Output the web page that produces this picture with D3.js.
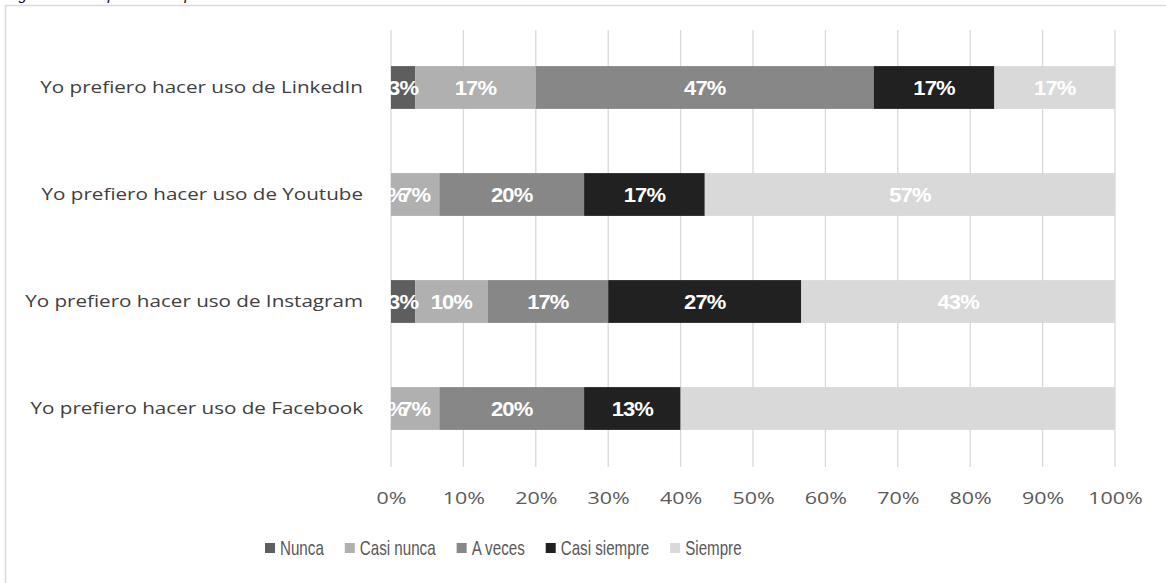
<!DOCTYPE html>
<html>
<head>
<meta charset="utf-8">
<script src="https://cdn.jsdelivr.net/npm/d3@7"></script>
<style>
  body { margin: 0; background: #fff; }
  svg { display: block; }
</style>
</head>
<body>
<svg id="chart"></svg>
<script>
// categories, top to bottom
const categories = [
  "Yo prefiero hacer uso de LinkedIn",
  "Yo prefiero hacer uso de Youtube",
  "Yo prefiero hacer uso de Instagram",
  "Yo prefiero hacer uso de Facebook"
];

const seriesNames = ["Nunca", "Casi nunca", "A veces", "Casi siempre", "Siempre"];
const seriesColors = ["#5e5e5e", "#b0b0b0", "#878787", "#212121", "#d9d9d9"];

// percentages per series, same order as categories
const nunca = [3.33, 0, 3.33, 0];
const casiNunca = [16.67, 6.67, 10, 6.67];
const aVeces = [46.67, 20, 16.67, 20];
const casiSiempre = [16.67, 16.67, 26.67, 13.33];
const siempre = [16.67, 56.67, 43.33, 60];

// label not shown in the original for this cell: [category index, series index]
const hiddenLabels = [[3, 4]];

const tickValues = [0, 10, 20, 30, 40, 50, 60, 70, 80, 90, 100];
const caption = "Figura 4 Descripción de la preferencia de uso de redes sociales";

const width = 1166, height = 583;
const margin = { left: 391, right: 51, top: 34, bottom: 121 };
// the original picture is stretched sideways
const stretch = 1.25;

const svg = d3.select("#chart")
  .attr("width", width)
  .attr("height", height);

// caption mostly cut off at top
svg.append("text")
  .attr("x", 6)
  .attr("y", 0)
  .attr("font-family", "Liberation Sans, Arial, sans-serif")
  .attr("font-style", "italic")
  .attr("font-size", "15px")
  .attr("fill", "#000")
  .text(caption);

// frame
svg.append("rect")
  .attr("x", 5.5)
  .attr("y", 5.5)
  .attr("width", width + 10)
  .attr("height", height + 10)
  .attr("fill", "none")
  .attr("stroke", "#d9d9d9")
  .attr("stroke-width", 1.5);

const allSeries = [nunca, casiNunca, aVeces, casiSiempre, siempre];

const x = d3.scaleLinear()
  .domain([0, 100])
  .range([margin.left, width - margin.right]);

const y = d3.scaleBand()
  .domain(categories)
  .range([margin.top, height - margin.bottom])
  .paddingInner(0.6)
  .paddingOuter(0.3);

// gridlines
svg.append("g")
  .selectAll("line")
  .data(tickValues)
  .enter()
  .append("line")
  .attr("x1", d => x(d))
  .attr("x2", d => x(d))
  .attr("y1", 30)
  .attr("y2", 467)
  .attr("stroke", "#d9d9d9")
  .attr("stroke-width", 1.3);

// stack data
const rows = categories.map((c, i) => {
  const r = { cat: c };
  seriesNames.forEach((s, j) => { r[s] = allSeries[j][i]; });
  return r;
});
const stacked = d3.stack().keys(seriesNames)(rows);

const layers = svg.append("g")
  .selectAll("g")
  .data(stacked)
  .enter()
  .append("g")
  .attr("fill", (d, i) => seriesColors[i]);

layers.selectAll("rect")
  .data(d => d)
  .enter()
  .append("rect")
  .attr("x", d => x(d[0]))
  .attr("y", d => y(d.data.cat))
  .attr("width", d => x(d[1]) - x(d[0]))
  .attr("height", y.bandwidth());

// value labels
const isHidden = (ci, si) => hiddenLabels.some(h => h[0] == ci && h[1] == si);
stacked.forEach((layer, si) => {
  layer.forEach((d, ci) => {
    if (isHidden(ci, si)) return;
    const cx = (x(d[0]) + x(d[1])) / 2;
    const cy = y(d.data.cat) + y.bandwidth() / 2;
    svg.append("text")
      .attr("transform", `translate(${cx},${cy}) scale(1.1,1)`)
      .attr("dy", "0.36em")
      .attr("text-anchor", "middle")
      .attr("font-family", "Liberation Sans, Arial, sans-serif")
      .attr("font-weight", "bold")
      .attr("font-size", "20px")
      .attr("letter-spacing", "-0.8px")
      .attr("fill", "#fff")
      .text(Math.round(d[1] - d[0]) + "%");
  });
});

// category labels
svg.append("g")
  .selectAll("text")
  .data(categories)
  .enter()
  .append("text")
  .attr("transform", d => `translate(363,${y(d) + y.bandwidth() / 2}) scale(${stretch},1)`)
  .attr("dy", "0.35em")
  .attr("text-anchor", "end")
  .attr("font-family", "Open Sans, sans-serif")
  .attr("font-size", "16.5px")
  .attr("fill", "#404040")
  .text(d => d);

// x axis tick labels
const xAxis = d3.axisBottom(x)
  .tickValues(tickValues)
  .tickSize(0)
  .tickPadding(0)
  .tickFormat(d => d + "%");

const gx = svg.append("g")
  .attr("transform", "translate(0,492)")
  .call(xAxis);
gx.select(".domain").remove();
gx.selectAll("text")
  .attr("transform", `scale(1.3,1)`)
  .attr("font-family", "Open Sans, sans-serif")
  .attr("font-size", "16.5px")
  .attr("fill", "#595959");

// legend
const legend = svg.append("g");
const legendSqueeze = 0.74;
let lx = 265;
seriesNames.forEach((s, i) => {
  legend.append("rect")
    .attr("x", lx)
    .attr("y", 543)
    .attr("width", 10)
    .attr("height", 10)
    .attr("fill", seriesColors[i]);
  const t = legend.append("text")
    .attr("transform", `translate(${lx + 15},548) scale(${legendSqueeze},1)`)
    .attr("dy", "0.36em")
    .attr("font-family", "Liberation Sans, sans-serif")
    .attr("font-size", "20.5px")
    .attr("fill", "#595959")
    .text(s);
  lx += 15 + t.node().getComputedTextLength() * legendSqueeze + 21;
});
</script>
</body>
</html>
